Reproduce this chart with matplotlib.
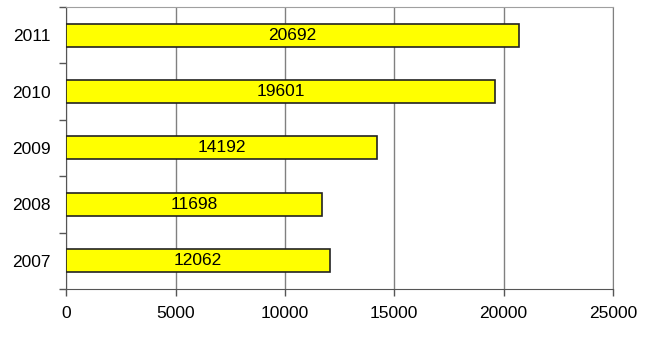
import matplotlib.pyplot as plt
import numpy as np

plt.rcParams['font.family'] = ['Liberation Sans', 'DejaVu Sans']

years = ['2007', '2008', '2009', '2010', '2011']
values = [12062, 11698, 14192, 19601, 20692]

fig = plt.figure(figsize=(6.5, 3.44), dpi=100)
ax = fig.add_axes([0.102, 0.16, 0.841, 0.82])

y = np.arange(len(years))
ax.barh(y, values, height=0.41, color='#ffff00', edgecolor='#222222', linewidth=1.2, zorder=3)
for yi, v in zip(y, values):
    ax.text(v / 2, yi, str(v), ha='center', va='center', fontsize=12.5, zorder=4)

ax.set_xlim(0, 25000)
ax.set_ylim(-0.5, len(years) - 0.5)
ax.set_xticks(np.arange(0, 25001, 5000))
ax.set_yticks(y)
ax.set_yticklabels(years)
ax.set_yticks(np.arange(-0.5, len(years), 1), minor=True)
ax.tick_params(axis='y', which='major', length=0, labelsize=12.5, pad=11)
ax.tick_params(axis='y', which='minor', length=5, color='#555555', width=1)
ax.tick_params(axis='x', length=5, color='#555555', width=1, labelsize=12.5, pad=7)

ax.grid(axis='x', color='#808080', linewidth=1, zorder=0)
ax.spines['left'].set_color('#555555')
ax.spines['bottom'].set_color('#555555')
ax.spines['top'].set_color('#a0a0a0')
ax.spines['right'].set_color('#808080')

fig.savefig('out.png', dpi=100)
